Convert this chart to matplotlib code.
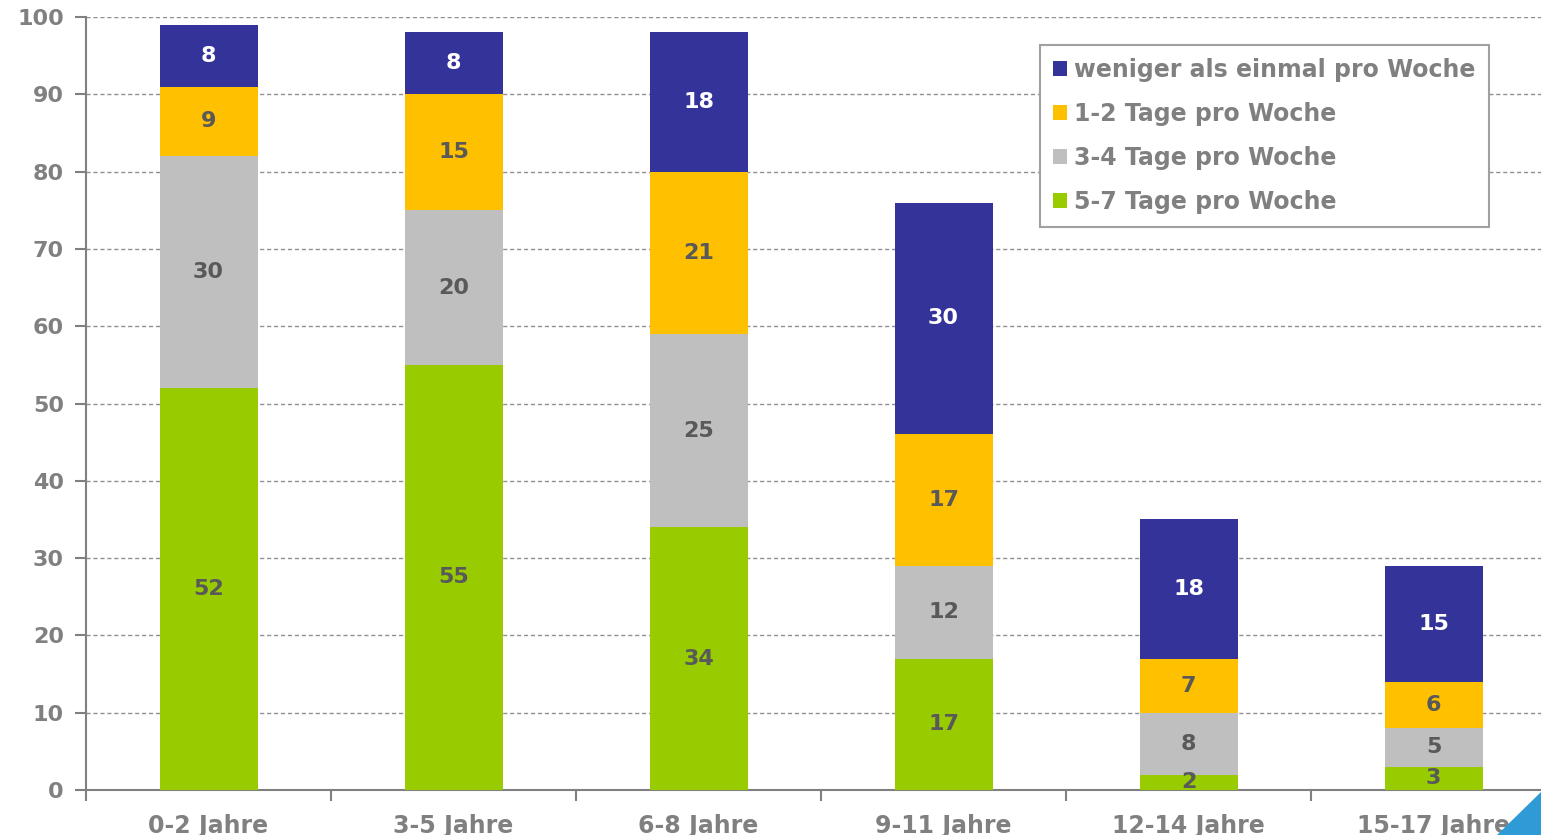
import matplotlib.pyplot as plt
import numpy as np
from matplotlib.patches import Polygon

# data
categories = ["0-2 Jahre", "3-5 Jahre", "6-8 Jahre", "9-11 Jahre", "12-14 Jahre", "15-17 Jahre"]
tage_5_7 = [52, 55, 34, 17, 2, 3]
tage_3_4 = [30, 20, 25, 12, 8, 5]
tage_1_2 = [9, 15, 21, 17, 7, 6]
weniger = [8, 8, 18, 30, 18, 15]

series = [
    ("5-7 Tage pro Woche", tage_5_7, "#99CC00", "#595959"),
    ("3-4 Tage pro Woche", tage_3_4, "#BFBFBF", "#595959"),
    ("1-2 Tage pro Woche", tage_1_2, "#FFC000", "#595959"),
    ("weniger als einmal pro Woche", weniger, "#333399", "white"),
]

axis_grey = "#808080"

fig = plt.figure(figsize=(15.41, 8.35), dpi=100)
ax = fig.add_axes([86 / 1541, 45 / 835, 1470 / 1541, 773 / 835])

x = np.arange(len(categories))
bottom = np.zeros(len(categories))
handles = []
for name, vals, color, tcolor in series:
    vals = np.array(vals, dtype=float)
    bars = ax.bar(x, vals, width=0.4, bottom=bottom, color=color, label=name, zorder=3)
    handles.append(bars)
    for xi, b, v in zip(x, bottom, vals):
        ax.text(xi, b + v / 2, f"{int(v)}", ha="center", va="center",
                fontsize=16, fontweight="bold", color=tcolor, zorder=4)
    bottom += vals

ax.set_xlim(-0.5, len(categories) - 0.5)
ax.set_ylim(0, 100)
ax.set_yticks(range(0, 101, 10))
ax.set_xticks(x)
ax.set_xticklabels(categories)
ax.set_xticks(np.arange(-0.5, len(categories), 1), minor=True)
ax.tick_params(axis="x", which="major", length=0, pad=17, labelsize=17, labelcolor=axis_grey)
ax.tick_params(axis="x", which="minor", length=8, width=1.5, color=axis_grey, direction="out")
ax.tick_params(axis="y", length=8, width=1.5, color=axis_grey, labelsize=16, labelcolor=axis_grey, pad=8)
for lab in ax.get_xticklabels() + ax.get_yticklabels():
    lab.set_fontweight("bold")

ax.grid(axis="y", linestyle=(0, (3, 2)), color="#909090", linewidth=1, zorder=0)
for s in ["top", "right"]:
    ax.spines[s].set_visible(False)
for s in ["left", "bottom"]:
    ax.spines[s].set_color(axis_grey)
    ax.spines[s].set_linewidth(1.5)

leg = ax.legend(handles[::-1], [s[0] for s in series][::-1],
                loc="upper left", bbox_to_anchor=(1040 / 1541, 1 - 45 / 835),
                bbox_transform=fig.transFigure, borderaxespad=0,
                prop={"size": 17, "weight": "bold"}, labelcolor=axis_grey,
                handlelength=0.6, handleheight=0.6, handletextpad=0.3,
                labelspacing=0.85, borderpad=0.55, fancybox=False, framealpha=1)
leg.get_frame().set_edgecolor("#A0A0A0")
leg.get_frame().set_linewidth(1.5)

# corner decoration
fig.patches.append(Polygon([[1497 / 1541, 0], [1, 0], [1, 43 / 835]], closed=True,
                           transform=fig.transFigure, color="#2E9BD6", zorder=5))

fig.savefig("out.png", dpi=100)
